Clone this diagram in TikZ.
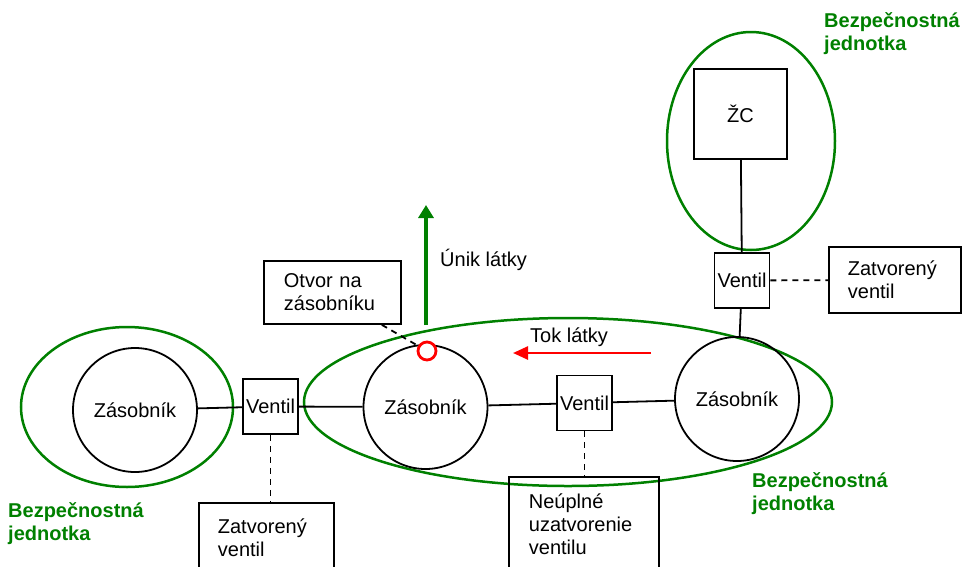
\documentclass[tikz,border=0pt]{standalone}
\usepackage{fontspec}
\setmainfont{Liberation Sans}
\usetikzlibrary{arrows.meta}
\definecolor{unitgreen}{RGB}{0,128,0}
\begin{document}
\begin{tikzpicture}[x=1pt,y=-1pt,
  every node/.style={font=\fontsize{20}{23}\selectfont},
  link/.style={draw=black,line width=1.8pt},
  note/.style={link,dash pattern=on 6pt off 5pt},
  tank/.style={circle,draw,line width=1.8pt,minimum size=124pt,inner sep=0pt},
  valve/.style={rectangle,draw,line width=1.8pt,minimum width=55pt,minimum height=55pt,inner sep=0pt},
  infobox/.style={rectangle,draw,line width=1.8pt,align=left,inner ysep=0pt,anchor=north west},
  unitline/.style={draw=unitgreen,line width=2.5pt},
  unitlabel/.style={text=unitgreen,font=\fontsize{20}{23}\selectfont\bfseries,align=left,anchor=west,inner sep=0pt},
  caption/.style={anchor=west,inner sep=0pt}]
\useasboundingbox (0,0) rectangle (962,566);
\clip (0,0) rectangle (962,566);

% safety units
\draw[unitline] (127,407) ellipse [x radius=106, y radius=80];
\draw[unitline] (568,402) ellipse [x radius=264, y radius=84];
\draw[unitline] (751,141) ellipse [x radius=84, y radius=109];

% tanks, valves and the control box
\node[tank] (tankL) at (135,410) {Zásobník};
\node[tank] (tankM) at (425.5,407) {Zásobník};
\node[tank] (tankR) at (737,399) {Zásobník};
\node[valve] (valveL) at (270.5,406.5) {Ventil};
\node[valve] (valveM) at (584.5,403) {Ventil};
\node[valve] (valveR) at (742,280.5) {Ventil};
\node[rectangle,draw,line width=1.8pt,minimum width=93pt,minimum height=90pt] (zc) at (740.5,114) {ŽC};

% notes
\node[infobox,text width=97pt,inner xsep=20pt,minimum height=63pt] (hole note) at (263,260) {Otvor na\\zásobníku};
\node[infobox,text width=94pt,inner xsep=19pt,minimum height=66pt] (closed R) at (828,246) {Zatvorený\\ventil};
\node[infobox,text width=97pt,inner xsep=19pt,minimum height=70pt] (closed L) at (198,502) {Zatvorený\\ventil};
\node[infobox,text width=110pt,inner xsep=20pt,minimum height=94pt] (partial) at (508,476) {Neúplné\\uzatvorenie\\ventilu};

% pipes
\draw[link] (tankL) -- (valveL);
\draw[link] (valveL) -- (tankM);
\draw[link] (tankM) -- (valveM);
\draw[link] (valveM) -- (tankR);
\draw[link] (tankR) -- (valveR);
\draw[link] (valveR) -- (zc);

% note leaders
\draw[note] (valveR) -- (closed R);
\draw[note] (valveL.south) -- (valveL.south |- closed L.north);
\draw[note] (valveM.south) -- (valveM.south |- partial.north);

% leak and flow
\coordinate (leak foot) at (426,325);
\coordinate (leak tip) at (426,205);
\draw[draw=unitgreen,line width=3.3pt,-{Triangle[length=13pt,width=15pt]}] (leak foot) -- (leak tip);
\node[caption] (leak text) at (440,260) {Únik látky};
\coordinate (flow start) at (651,353);
\coordinate (flow end) at (513,353);
\draw[draw=red,line width=2.5pt,-{Triangle[length=15pt,width=13pt]},color=red] (flow start) -- (flow end);
\node[caption] (flow text) at (530,337) {Tok látky};

% opening in the tank wall
\node[circle,draw=red,fill=white,line width=2.8pt,minimum size=18pt,inner sep=0pt] (hole) at (427,351) {};
\draw[note] ([xshift=-20pt]hole note.south east) -- (hole);

% unit labels
\node[unitlabel] (label top) at (824,34) {Bezpečnostná\\jednotka};
\node[unitlabel] (label left) at (8,524) {Bezpečnostná\\jednotka};
\node[unitlabel] (label mid) at (752,494) {Bezpečnostná\\jednotka};
\end{tikzpicture}
\end{document}
